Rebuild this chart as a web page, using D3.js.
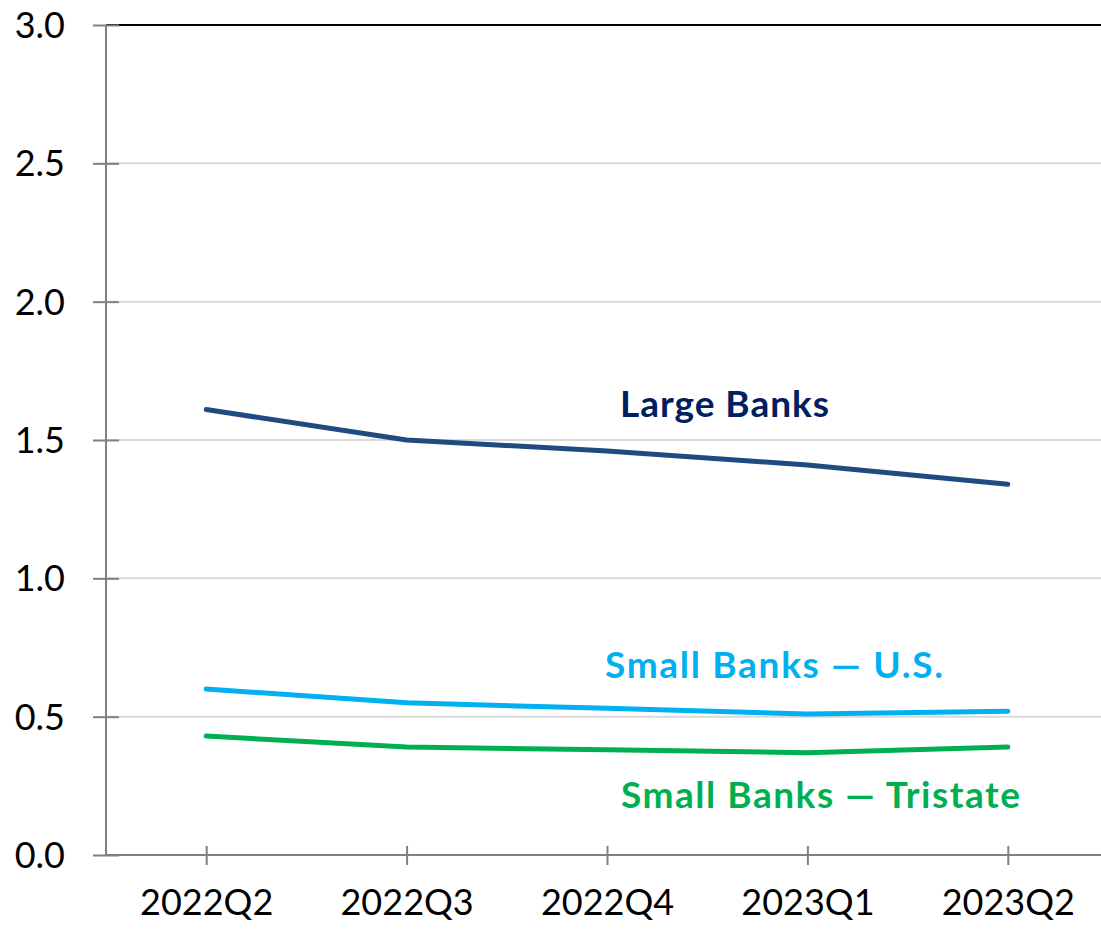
<!DOCTYPE html>
<html>
<head>
<meta charset="utf-8">
<script src="https://cdn.jsdelivr.net/npm/d3@7"></script>
<style>
  html, body { margin: 0; padding: 0; background: #fff; }
  svg { display: block; font-family: Lato, "Open Sans", sans-serif; }
</style>
</head>
<body>
<svg id="chart" width="1101" height="933"></svg>
<script>
// Quarters on the x axis
const quarters = ["2022Q2", "2022Q3", "2022Q4", "2023Q1", "2023Q2"];
// Series values per quarter
const largeBanks = [1.61, 1.50, 1.46, 1.41, 1.34];
const smallBanksUS = [0.60, 0.55, 0.53, 0.51, 0.52];
const smallBanksTristate = [0.43, 0.39, 0.38, 0.37, 0.39];
// Y tick values
const yTicks = [0, 0.5, 1.0, 1.5, 2.0, 2.5, 3.0];

const seriesList = [
  { name: "Large Banks", values: largeBanks, line: "#1f4b80", text: "#002060", lx: 620, ly: 417, w: 209 },
  { name: "Small Banks \u2014 U.S.", values: smallBanksUS, line: "#00b0f0", text: "#00b0f0", lx: 605, ly: 678, w: 338 },
  { name: "Small Banks \u2014 Tristate", values: smallBanksTristate, line: "#00b050", text: "#00b050", lx: 621, ly: 808, w: 399 }
];

const svg = d3.select("#chart");
const plotLeft = 106, plotRight = 1108, plotTop = 25, plotBottom = 855;

const x = d3.scalePoint().domain(quarters).range([plotLeft, plotRight]).padding(0.5);
const y = d3.scaleLinear().domain([0, 3]).range([plotBottom, plotTop]);

// Horizontal gridlines (the top one is drawn black)
svg.append("g").selectAll("line").data(yTicks.filter(d => d > 0)).join("line")
  .attr("x1", plotLeft).attr("x2", 1101)
  .attr("y1", d => y(d)).attr("y2", d => y(d))
  .attr("stroke", d => d === 3 ? "#000" : "#d9d9d9")
  .attr("stroke-width", 2);

// Y axis with cross ticks
const yAxis = svg.append("g")
  .attr("transform", `translate(${plotLeft},0)`)
  .call(d3.axisLeft(y).tickValues(yTicks).tickFormat(d3.format(".1f")).tickSize(13).tickPadding(28));
yAxis.select(".domain").remove();
yAxis.selectAll(".tick line").attr("x2", 13).attr("x1", -13).attr("stroke", "#808080").attr("stroke-width", 2);
yAxis.selectAll(".tick text").attr("font-size", 36).attr("fill", "#000").attr("font-family", "Lato, sans-serif").attr("dy", "0.35em");
yAxis.append("line").attr("x1", 0).attr("x2", 0).attr("y1", plotTop).attr("y2", plotBottom)
  .attr("stroke", "#808080").attr("stroke-width", 2);

// X axis with cross ticks
const xAxis = svg.append("g")
  .attr("transform", `translate(0,${plotBottom})`)
  .call(d3.axisBottom(x).tickSize(10).tickPadding(24));
xAxis.select(".domain").remove();
xAxis.append("line").attr("x1", plotLeft).attr("x2", 1101).attr("y1", 0).attr("y2", 0)
  .attr("stroke", "#808080").attr("stroke-width", 2);
xAxis.selectAll(".tick line").attr("y1", -9).attr("y2", 10).attr("stroke", "#808080").attr("stroke-width", 2);
xAxis.selectAll(".tick text").attr("font-size", 36).attr("fill", "#000").attr("font-family", "Lato, sans-serif").attr("dy", "0.71em");

// Series lines
const lineGen = d3.line().x((d, i) => x(quarters[i])).y(d => y(d));
svg.append("g").selectAll("path").data(seriesList).join("path")
  .attr("d", s => lineGen(s.values))
  .attr("fill", "none")
  .attr("stroke", s => s.line)
  .attr("stroke-width", 5)
  .attr("stroke-linecap", "round")
  .attr("stroke-linejoin", "round");

// Series labels
svg.append("g").selectAll("text").data(seriesList).join("text")
  .attr("x", s => s.lx).attr("y", s => s.ly)
  .attr("fill", s => s.text)
  .attr("font-size", 37)
  .attr("font-weight", "bold")
  .attr("textLength", s => s.w)
  .attr("lengthAdjust", "spacing")
  .text(s => s.name);
</script>
</body>
</html>
